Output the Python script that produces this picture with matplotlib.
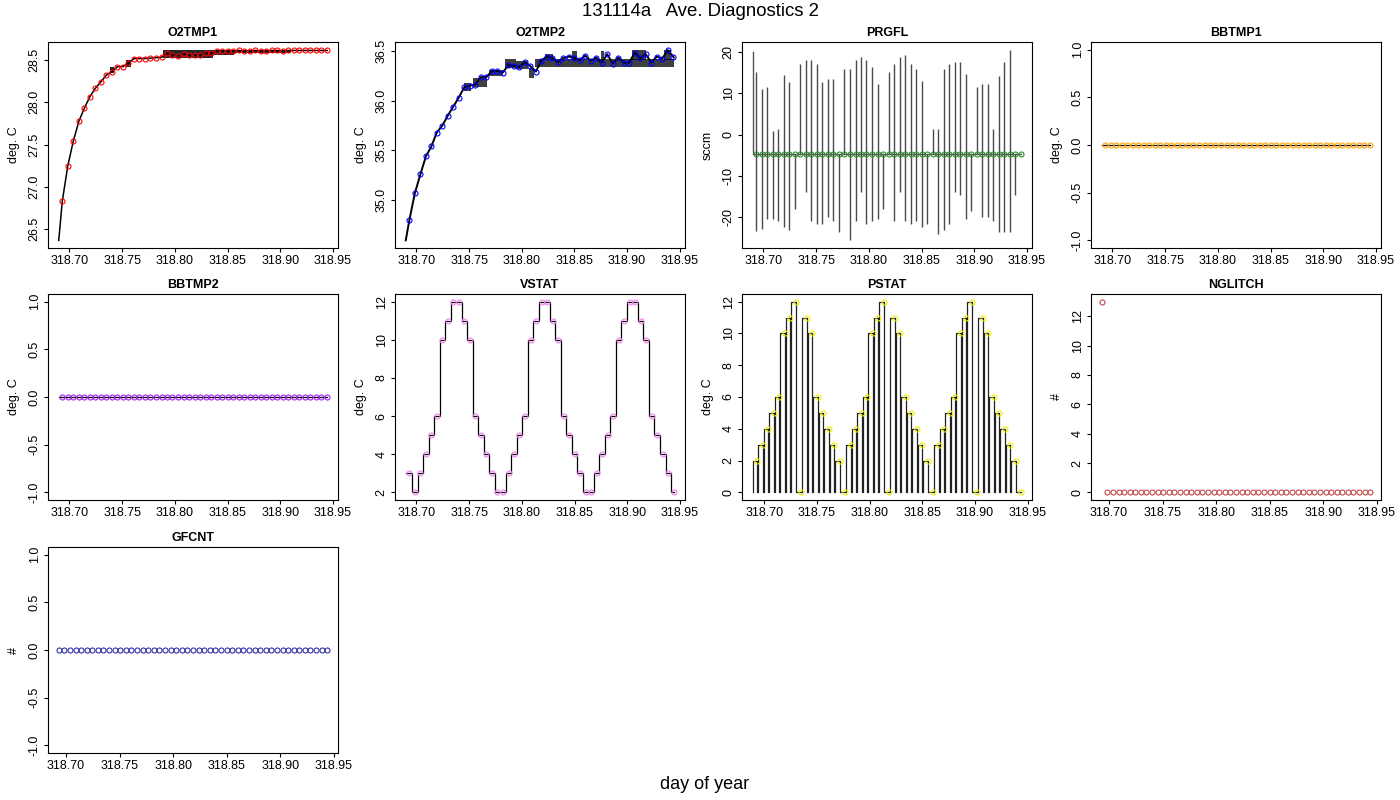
import matplotlib
matplotlib.use("Agg")
import matplotlib.pyplot as plt
import numpy as np

plt.rcParams.update({
    "font.family": ["Liberation Sans", "DejaVu Sans"],
    "font.size": 9,
    "axes.linewidth": 0.8,
    "axes.unicode_minus": False,
    "xtick.major.size": 3.2,
    "ytick.major.size": 3.2,
    "xtick.major.width": 0.8,
    "ytick.major.width": 0.8,
    "xtick.major.pad": 2.0,
    "ytick.major.pad": 2.0,
    "xtick.labelsize": 9,
    "ytick.labelsize": 9,
})

# averaging grid (day of year)
t_avg = [318.6932, 318.6984, 318.7037, 318.7089, 318.7141, 318.7193, 318.7246,
         318.7298, 318.7350, 318.7402, 318.7455, 318.7507, 318.7559, 318.7611,
         318.7664, 318.7716, 318.7768, 318.7820, 318.7873, 318.7925, 318.7977,
         318.8029, 318.8082, 318.8134, 318.8186, 318.8238, 318.8291, 318.8343,
         318.8395, 318.8447, 318.8500, 318.8552, 318.8604, 318.8656, 318.8709,
         318.8761, 318.8813, 318.8865, 318.8918, 318.8970, 318.9022, 318.9074,
         318.9127, 318.9179, 318.9231, 318.9283, 318.9336, 318.9388, 318.9440]
raw_t0, raw_t1 = 318.6898, 318.9445

# O2TMP1
o2tmp1_avg = [26.835, 27.25, 27.545, 27.775, 27.93, 28.065, 28.165, 28.24, 28.32,
              28.36, 28.42, 28.42, 28.46, 28.515, 28.515, 28.515, 28.52, 28.525,
              28.53, 28.575, 28.56, 28.55, 28.57, 28.56, 28.56, 28.56, 28.585,
              28.58, 28.605, 28.605, 28.605, 28.605, 28.61, 28.60, 28.60, 28.61,
              28.605, 28.605, 28.61, 28.61, 28.605, 28.61, 28.61, 28.61, 28.61,
              28.61, 28.61, 28.61, 28.61]
o2tmp1_start, o2tmp1_end = 26.37, 28.61
o2tmp1_band_t0 = [318.738, 318.7535, 318.789, 318.836, 318.856, 318.910]
o2tmp1_band_t1 = [318.742, 318.758, 318.836, 318.856, 318.910, 318.944]
o2tmp1_band_lo = [28.34, 28.42, 28.52, 28.56, 28.585, 28.60]
o2tmp1_band_hi = [28.41, 28.50, 28.615, 28.62, 28.62, 28.62]

# O2TMP2
o2tmp2_avg = [34.80, 35.07, 35.26, 35.44, 35.54, 35.68, 35.75, 35.85, 35.94, 36.03,
              36.135, 36.15, 36.16, 36.235, 36.235, 36.295, 36.295, 36.28, 36.355,
              36.35, 36.335, 36.385, 36.345, 36.29, 36.40, 36.44, 36.43, 36.385,
              36.425, 36.44, 36.43, 36.405, 36.45, 36.40, 36.43, 36.38, 36.465,
              36.37, 36.43, 36.38, 36.38, 36.48, 36.425, 36.465, 36.38, 36.44,
              36.42, 36.505, 36.44]
o2tmp2_start, o2tmp2_end = 34.60, 36.43
o2tmp2_band_t0 = [318.745, 318.754, 318.769, 318.784, 318.795, 318.807, 318.813,
                  318.822, 318.848, 318.875, 318.905, 318.935]
o2tmp2_band_t1 = [318.752, 318.767, 318.782, 318.795, 318.806, 318.812, 318.945,
                  318.830, 318.853, 318.878, 318.918, 318.942]
o2tmp2_band_lo = [36.10, 36.14, 36.25, 36.33, 36.32, 36.23, 36.34,
                  36.41, 36.41, 36.41, 36.41, 36.41]
o2tmp2_band_hi = [36.18, 36.23, 36.31, 36.42, 36.40, 36.33, 36.42,
                  36.47, 36.50, 36.50, 36.51, 36.51]

# PRGFL
prgfl_avg = [-4.8] * 49
prgfl_base, prgfl_start = -4.8, 20.0
prgfl_hi = [15.3, 11.0, 11.5, 0.8, 1.3, 14.5, 12.8, -4.8,
            17.1, 18.2, 18.2, 17.1, 12.8, 13.4, 13.4, -4.8,
            15.9, 15.9, 18.2, 18.8, 18.2, 16.4, 12.2, -4.8,
            15.3, 17.1, 18.8, 19.4, 17.1, 15.9, 12.9, -4.8,
            1.4, 1.4, 15.9, 17.1, 17.7, 17.7, 14.7, -4.8,
            11.6, 12.2, 12.2, 1.4, 14.1, 17.7, 20.6, -4.8, -4.8]
prgfl_lo = [-23.4, -22.8, -20.5, -20.5, -21.0, -22.3, -23.0, -18.0,
            -4.8, -14.0, -21.0, -21.7, -21.7, -20.0, -21.0, -23.5,
            -4.8, -25.6, -21.0, -13.8, -21.7, -21.0, -20.5, -18.0,
            -4.8, -21.0, -13.8, -21.0, -21.7, -21.0, -22.3, -21.7,
            -4.8, -24.0, -23.0, -21.7, -14.0, -14.5, -20.5, -18.5,
            -4.8, -20.0, -20.0, -21.0, -23.5, -23.5, -23.5, -14.5, -4.8]

# constant channels
bbtmp1_avg = [0.0] * 49
bbtmp2_avg = [0.0] * 49
gfcnt_avg = [0.0] * 49
nglitch_avg = [13.0] + [0.0] * 48

# pump states
vstat_avg = [3, 2, 3, 4, 5, 6, 10, 11, 12, 12, 11, 10, 6, 5, 4, 3, 2,
             2, 3, 4, 5, 6, 10, 11, 12, 12, 11, 10, 6, 5, 4, 3, 2,
             2, 3, 4, 5, 6, 10, 11, 12, 12, 11, 10, 6, 5, 4, 3, 2]
vstat_start, vstat_end = 3, 2
pstat_avg = [2, 3, 4, 5, 6, 10, 11, 12, 0, 11, 10, 6, 5, 4, 3, 2,
             0, 3, 4, 5, 6, 10, 11, 12, 0, 11, 10, 6, 5, 4, 3, 2,
             0, 3, 4, 5, 6, 10, 11, 12, 0, 11, 10, 6, 5, 4, 3, 2, 0]

t = np.array(t_avg)

fig = plt.figure(figsize=(14, 8), dpi=100)

W, H = 1400.0, 800.0
col_left = [48, 395, 742, 1091]
row_top = [42, 294, 547]
aw, ah = 290, 206


def make_ax(r, c, title, ylabel, yticks, ylim=None):
    ax = fig.add_axes([col_left[c] / W, 1 - (row_top[r] + ah) / H, aw / W, ah / H])
    ax.set_title(title, fontweight="bold", fontsize=9, pad=4)
    ax.set_ylabel(ylabel, fontsize=9)
    ax.yaxis.set_label_coords(-0.097, 0.5)
    ax.set_xticks([318.70, 318.75, 318.80, 318.85, 318.90, 318.95])
    ax.set_xticklabels(["318.70", "318.75", "318.80", "318.85", "318.90", "318.95"])
    ax.set_yticks(yticks)
    ax.tick_params(axis="y", labelrotation=90)
    for lab in ax.get_yticklabels():
        lab.set_va("center")
    ax.margins(x=0.04, y=0.04)
    if ylim is not None:
        ax.set_ylim(ylim)
    return ax


def circles(ax, y, color):
    ax.plot(t, y, "o", ms=3.6, mfc="none", mec=color, mew=0.8, zorder=5)


# O2TMP1
ax = make_ax(0, 0, "O2TMP1", "deg. C", [26.5, 27.0, 27.5, 28.0, 28.5])
ax.plot([raw_t0] + t_avg + [raw_t1], [o2tmp1_start] + o2tmp1_avg + [o2tmp1_end],
        color="k", lw=1.1)
for a, b, lo, hi in zip(o2tmp1_band_t0, o2tmp1_band_t1, o2tmp1_band_lo, o2tmp1_band_hi):
    ax.fill_between([a, b], [lo, lo], [hi, hi], color="k", lw=0, alpha=0.85)
circles(ax, o2tmp1_avg, "red")
ax.set_yticklabels(["26.5", "27.0", "27.5", "28.0", "28.5"])

# O2TMP2
ax = make_ax(0, 1, "O2TMP2", "deg. C", [35.0, 35.5, 36.0, 36.5])
ax.plot([raw_t0] + t_avg + [raw_t1], [o2tmp2_start] + o2tmp2_avg + [o2tmp2_end],
        color="k", lw=1.4)
for a, b, lo, hi in zip(o2tmp2_band_t0, o2tmp2_band_t1, o2tmp2_band_lo, o2tmp2_band_hi):
    ax.fill_between([a, b], [lo, lo], [hi, hi], color="k", lw=0, alpha=0.75)
circles(ax, o2tmp2_avg, "blue")
ax.set_yticklabels(["35.0", "35.5", "36.0", "36.5"])

# PRGFL
ax = make_ax(0, 2, "PRGFL", "sccm", [-20, -10, 0, 10, 20])
ax.plot([raw_t0, raw_t0, raw_t1], [prgfl_start, prgfl_base, prgfl_base], color="#555555", lw=1.0)
ax.vlines(t, prgfl_lo, prgfl_hi, color="#4a4a4a", lw=1.0)
circles(ax, prgfl_avg, "#2f8f2f")

# BBTMP1
ax = make_ax(0, 3, "BBTMP1", "deg. C", [-1.0, -0.5, 0.0, 0.5, 1.0], ylim=(-1.08, 1.08))
ax.plot([raw_t0, raw_t1], [0, 0], color="k", lw=0.9)
circles(ax, bbtmp1_avg, "#ffa500")

# BBTMP2
ax = make_ax(1, 0, "BBTMP2", "deg. C", [-1.0, -0.5, 0.0, 0.5, 1.0], ylim=(-1.08, 1.08))
ax.plot([raw_t0, raw_t1], [0, 0], color="k", lw=0.9)
circles(ax, bbtmp2_avg, "#a020f0")

# VSTAT
ax = make_ax(1, 1, "VSTAT", "deg. C", [2, 4, 6, 8, 10, 12])
ax.plot([raw_t0] + t_avg + [raw_t1], [vstat_start] + vstat_avg + [vstat_end],
        color="k", lw=0.9, drawstyle="steps-mid")
circles(ax, vstat_avg, "#ee82ee")

# PSTAT
ax = make_ax(1, 2, "PSTAT", "deg. C", [0, 2, 4, 6, 8, 10, 12])
dt = t_avg[1] - t_avg[0]
px, py = [], []
for ti, v in zip(t_avg, pstat_avg):
    px += [ti - 0.8 * dt, ti - 0.8 * dt, ti, ti]
    py += [0, v, v, 0]
ax.plot(px, py, color="#222222", lw=0.9)
circles(ax, pstat_avg, "#f0f000")

# NGLITCH
ax = make_ax(1, 3, "NGLITCH", "#", [0, 2, 4, 6, 8, 10, 12])
circles(ax, nglitch_avg, "#c04848")

# GFCNT
ax = make_ax(2, 0, "GFCNT", "#", [-1.0, -0.5, 0.0, 0.5, 1.0], ylim=(-1.08, 1.08))
circles(ax, gfcnt_avg, "#3030a8")

fig.text(0.5, 0.985, "131114a   Ave. Diagnostics 2", ha="center", va="center", fontsize=13.4)
fig.text(0.503, 0.019, "day of year", ha="center", va="center", fontsize=13)

fig.savefig("out.png", dpi=100)
